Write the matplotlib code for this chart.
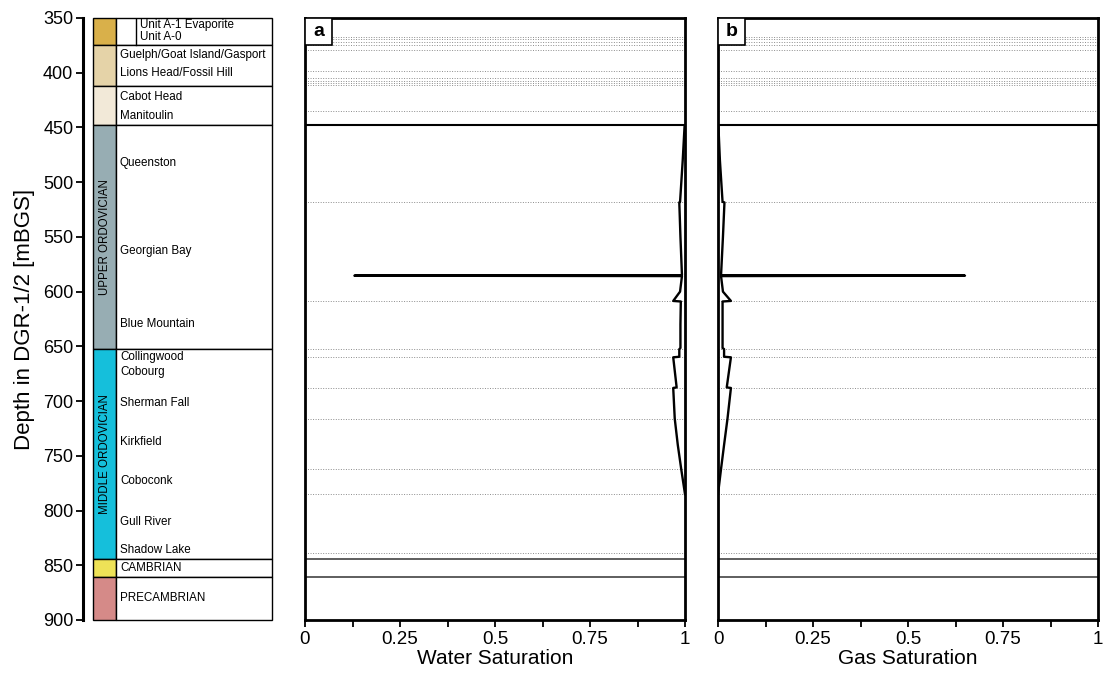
import matplotlib
matplotlib.use("Agg")
import matplotlib.pyplot as plt
from matplotlib.patches import Rectangle

plt.rcParams['font.family'] = ['Liberation Sans', 'DejaVu Sans']

# stratigraphic column (depths in mBGS)
unit_tops = [350, 375, 412, 448, 652, 844, 861]
unit_bots = [375, 412, 448, 652, 844, 861, 900]
unit_colors = ['#D9B04A', '#E5D3A8', '#F2E9D8', '#97ADB3', '#15BFDB', '#EEE257', '#D58A88']
period_names = ['', '', '', 'UPPER ORDOVICIAN', 'MIDDLE ORDOVICIAN', '', '']

fm_names = ['Unit A-1 Evaporite', 'Unit A-0', 'Guelph/Goat Island/Gasport', 'Lions Head/Fossil Hill',
            'Cabot Head', 'Manitoulin', 'Queenston', 'Georgian Bay', 'Blue Mountain',
            'Collingwood', 'Cobourg', 'Sherman Fall', 'Kirkfield', 'Coboconk', 'Gull River',
            'Shadow Lake', 'CAMBRIAN', 'PRECAMBRIAN']
fm_label_depth = [356.5, 367.5, 384, 400.5, 422, 439.5, 482.5, 563, 629.5,
                  659.5, 673.5, 701.5, 737.5, 773, 810.5, 836, 852.5, 880]

# formation boundaries drawn in the saturation panels
fm_bounds_dotted = [367, 369, 371.6, 375, 379, 398, 405, 407.6, 409.7, 411, 435,
                    518.4, 609, 652, 660, 688, 716, 762, 785, 838.5]
fm_bounds_solid = [448, 844, 861]

# saturation profiles
depth_sw = [448, 480, 518.0, 518.5, 550, 585.0, 585.4, 585.8, 600, 608.5, 609.0, 630,
            651.5, 652.5, 659.5, 660.0, 687.5, 688.0, 716, 740, 762, 785]
water_sat = [0.999, 0.994, 0.987, 0.985, 0.988, 0.992, 0.13, 0.992, 0.987, 0.969, 0.989, 0.988,
             0.988, 0.985, 0.985, 0.969, 0.978, 0.969, 0.973, 0.981, 0.990, 1.0]
gas_sat = [0.001, 0.005, 0.012, 0.017, 0.013, 0.008, 0.65, 0.008, 0.013, 0.034, 0.012, 0.012,
           0.012, 0.016, 0.016, 0.034, 0.023, 0.034, 0.025, 0.016, 0.008, 0.0]

xticks = [0, 0.25, 0.5, 0.75, 1]
xticklabels = ['0', '0.25', '0.5', '0.75', '1']

W, H = 1106, 677
fig = plt.figure(figsize=(W / 100, H / 100), dpi=100)


def px_axes(x0, x1, y0=18, y1=620):
    return fig.add_axes([x0 / W, 1 - y1 / H, (x1 - x0) / W, (y1 - y0) / H])


# --- column ---
ax0 = px_axes(83, 272)
ax0.set_xlim(0, 189)
ax0.set_ylim(900, 350)
for s in ['top', 'right', 'bottom']:
    ax0.spines[s].set_visible(False)
ax0.spines['left'].set_linewidth(2.2)
ax0.set_xticks([])
ax0.set_yticks(range(350, 901, 50))
ax0.tick_params(axis='y', length=5, width=1.3, labelsize=13, pad=2)
ax0.set_ylabel('Depth in DGR-1/2 [mBGS]', fontsize=16, labelpad=6)

for top, bot, col, per in zip(unit_tops, unit_bots, unit_colors, period_names):
    ax0.add_patch(Rectangle((10, top), 23, bot - top, facecolor=col, edgecolor='black',
                            lw=1, clip_on=False))
    ax0.add_patch(Rectangle((33, top), 156, bot - top, facecolor='white', edgecolor='black',
                            lw=1, clip_on=False))
    if per:
        ax0.text(21.5, (top + bot) / 2, per, rotation=90, ha='center', va='center', fontsize=8.3)
ax0.plot([53, 53], [unit_tops[0], unit_bots[0]], color='black', lw=1)

for name, d in zip(fm_names, fm_label_depth):
    x = 57 if name.startswith('Unit') else 37
    ax0.text(x, d, name, fontsize=8.4, va='center', ha='left')


# --- saturation panels ---
def sat_panel(x0, x1, values, xlabel, tag):
    ax = px_axes(x0, x1)
    ax.set_xlim(0, 1)
    ax.set_ylim(900, 350)
    for d in fm_bounds_dotted:
        ax.axhline(d, color='#8c8c8c', lw=0.7, ls=(0, (1, 1.6)), zorder=1)
    for d in fm_bounds_solid:
        ax.axhline(d, color='black' if d == 448 else '#333333', lw=1.5 if d == 448 else 1.1, zorder=2)
    ax.plot(values, depth_sw, color='black', lw=1.7, zorder=3)
    for s in ax.spines.values():
        s.set_linewidth(2)
    ax.set_yticks([])
    ax.set_xticks(xticks)
    ax.set_xticklabels(xticklabels)
    ax.set_xticks([0.125, 0.375, 0.625, 0.875], minor=True)
    ax.tick_params(axis='x', which='both', length=5, width=1.3, labelsize=13.5, pad=3)
    ax.set_xlabel(xlabel, fontsize=15, labelpad=1)
    ax.add_patch(Rectangle((0, 0.955), 27 / 380, 0.045, transform=ax.transAxes,
                           facecolor='white', edgecolor='black', lw=1.2, zorder=5))
    ax.text(13.5 / 380, 0.9775, tag, transform=ax.transAxes, ha='center', va='center',
            fontsize=14, fontweight='bold', zorder=6)
    return ax


sat_panel(305, 685, water_sat, 'Water Saturation', 'a')
sat_panel(718, 1098, gas_sat, 'Gas Saturation', 'b')

fig.savefig('out.png', dpi=100)
